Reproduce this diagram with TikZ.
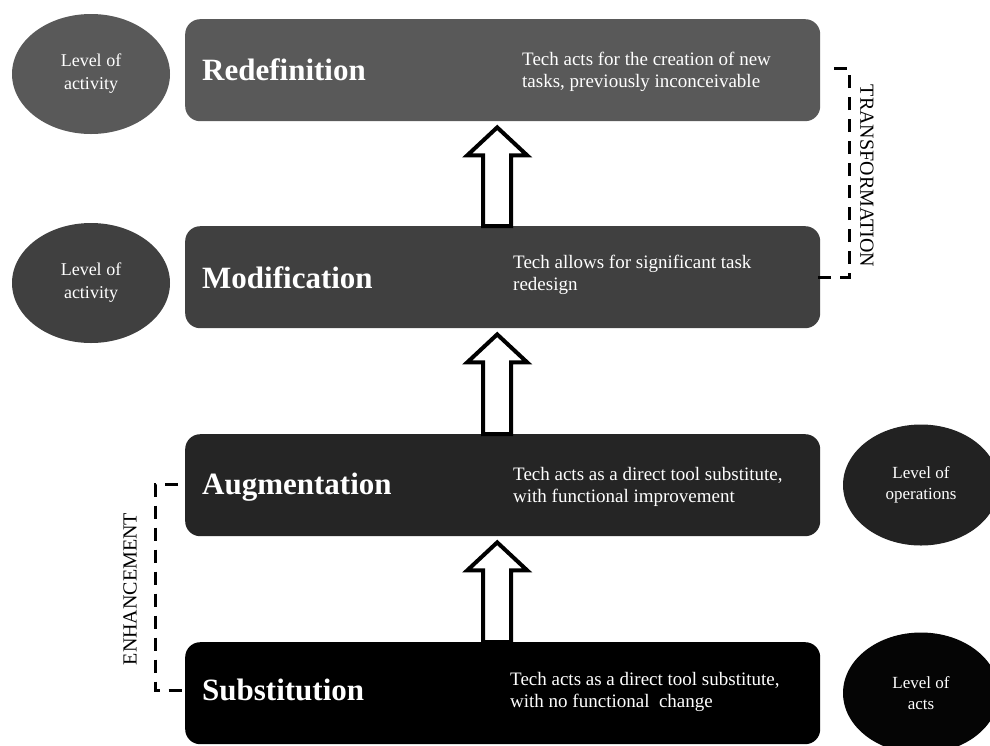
\documentclass[tikz,border=0pt]{standalone}
\usepackage{fontspec}
\setmainfont{Liberation Serif}
\usetikzlibrary{calc,shapes.geometric}

\definecolor{redefgray}{HTML}{595959}
\definecolor{modgray}{HTML}{404040}
\definecolor{auggray}{HTML}{252525}
\definecolor{subblack}{HTML}{000000}
\definecolor{opsgray}{HTML}{222222}
\definecolor{actsblack}{HTML}{050505}

\tikzset{
  levelbox/.style={rounded corners=15pt, minimum width=635pt, minimum height=102pt,
    anchor=north west, inner sep=0pt, draw=none},
  leveltitle/.style={text=white, font=\fontsize{31}{36}\selectfont\bfseries,
    anchor=base west, inner sep=0pt},
  leveldesc/.style={text=white, font=\fontsize{19}{22}\selectfont, align=left,
    anchor=west, inner sep=0pt},
  oval/.style={ellipse, minimum width=158pt, minimum height=120pt, text=white,
    align=center, inner sep=0pt, draw=none},
  ovaltextL/.style={font=\fontsize{18}{23}\selectfont},
  ovaltextR/.style={font=\fontsize{17}{21}\selectfont},
  bracket/.style={line width=3pt, dash pattern=on 13pt off 9pt},
  sidelabel/.style={font=\fontsize{20}{24}\selectfont, inner sep=0pt},
  blockarrow/.style={draw=black, fill=white, line width=4pt, miter limit=10}
}

% block arrow from the top of the lower box (#1) to just below the upper box (#2)
\newcommand\uparrowbetween[2]{%
  \draw[blockarrow] let \p1=([xshift=-5.5pt]#1.north), \p2=([xshift=-5.5pt,yshift=-6pt]#2.south) in
    (\x1-14pt,\y1) -- (\x1-14pt,\y2-28pt) -- (\x1-30pt,\y2-28pt) -- (\x1,\y2)
    -- (\x1+30pt,\y2-28pt) -- (\x1+14pt,\y2-28pt) -- (\x1+14pt,\y1) -- cycle;
}

\begin{document}
\begin{tikzpicture}[x=1pt,y=-1pt]
\useasboundingbox (0,0) rectangle (990,745);
\clip (0,0) rectangle (990,745);
\fill[white] (0,0) rectangle (990,745);

% the four levels
\node[levelbox, fill=redefgray] (redef) at (185,19) {};
\node[levelbox, fill=modgray] (mod) at (185,226) {};
\node[levelbox, fill=auggray] (aug) at (185,434) {};
\node[levelbox, fill=subblack] (sub) at (185,642) {};

\node[leveltitle] (redefT) at (202,80) {Redefinition};
\node[leveltitle] (modT) at (202,288) {Modification};
\node[leveltitle] (augT) at (202,494) {Augmentation};
\node[leveltitle] (subT) at (202,700) {Substitution};

\node[leveldesc] (redefD) at (522,71.6) {Tech acts for the creation of new\\tasks, previously inconceivable};
\node[leveldesc] (modD) at (513,274.6) {Tech allows for significant task\\redesign};
\node[leveldesc] (augD) at (513,486.6) {Tech acts as a direct tool substitute,\\with functional improvement};
\node[leveldesc] (subD) at (510,691.6) {Tech acts as a direct tool substitute,\\with no functional\ \ change};

% ovals
\node[oval, fill=redefgray, ovaltextL] (ovA) at (91,74) {Level of\\activity};
\node[oval, fill=modgray, ovaltextL] (ovB) at (91,283) {Level of\\activity};
\node[oval, fill=opsgray, ovaltextR, minimum width=156pt, minimum height=121pt] (ovC) at (921,485) {Level of\\operations};
\node[oval, fill=actsblack, ovaltextR, minimum width=156pt, minimum height=121pt] (ovD) at (921,693) {Level of\\acts};

% arrows between levels
\uparrowbetween{mod}{redef}
\uparrowbetween{aug}{mod}
\uparrowbetween{sub}{aug}

% brackets
\draw[bracket] ([xshift=-2pt]mod.east) -- ++(31,0) |- ([xshift=7pt,yshift=1.5pt]redef.east);
\node[sidelabel, rotate=-90] (trans) at (867,176) {TRANSFORMATION};

\draw[bracket] ([xshift=-7pt,yshift=0.5pt]aug.west) -- ++(-23,0) |- ([yshift=3pt]sub.west);
\node[sidelabel, rotate=90] (enh) at (130,589) {ENHANCEMENT};
\end{tikzpicture}
\end{document}
